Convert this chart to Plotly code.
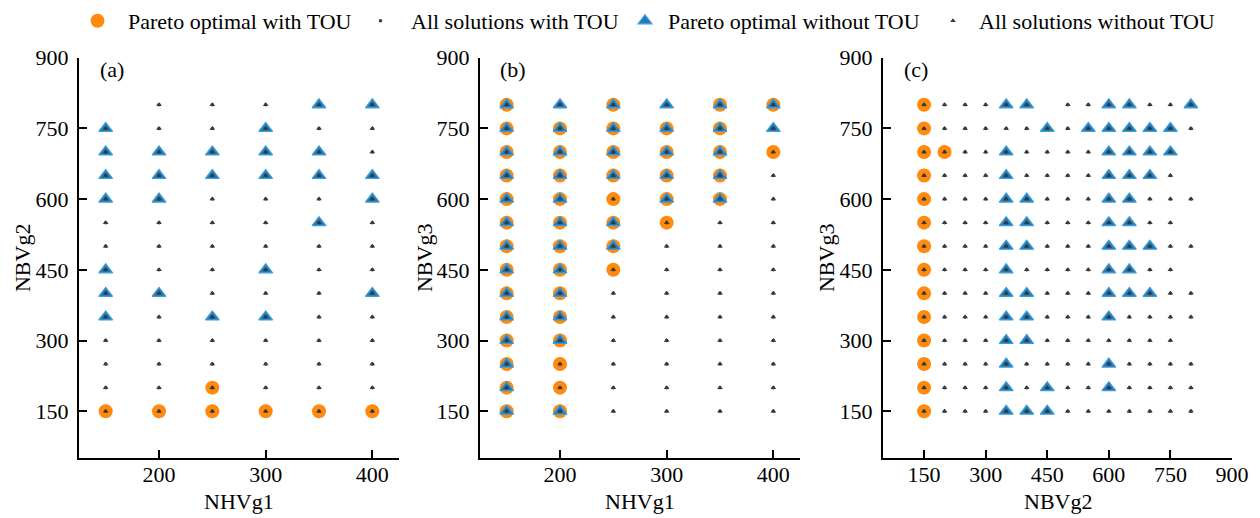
import plotly.graph_objects as go

# ---- grids of decision values (kW) ----
NHV_G1 = [150, 200, 250, 300, 350, 400]
NBV_LEVELS = [150, 200, 250, 300, 350, 400, 450, 500, 550, 600, 650, 700, 750, 800]

# ---- panel (a): NHVg1 vs NBVg2 ----
# Pareto sets keyed by NBVg2 level -> list of NHVg1 values
a_pareto_tou = {150: [150, 200, 250, 300, 350, 400], 200: [250]}
a_pareto_no_tou = {
    800: [350, 400], 750: [150, 300], 700: [150, 200, 250, 300, 350],
    650: [150, 200, 250, 300, 350, 400], 600: [150, 200, 400], 550: [350],
    450: [150, 300], 400: [150, 200, 400], 350: [150, 250, 300],
}
a_missing = [(150, 800)]

# ---- panel (b): NHVg1 vs NBVg3 ----
b_pareto_tou = {
    800: [150, 250, 350, 400], 750: [150, 200, 250, 300, 350],
    700: [150, 200, 250, 300, 350, 400], 650: [150, 200, 250, 300, 350],
    600: [150, 200, 250, 300, 350], 550: [150, 200, 250, 300],
    500: [150, 200, 250], 450: [150, 200, 250], 400: [150, 200],
    350: [150, 200], 300: [150, 200], 250: [150, 200], 200: [150, 200],
    150: [150, 200],
}
b_pareto_no_tou = {
    800: [150, 200, 250, 300, 350, 400], 750: [150, 200, 250, 300, 350, 400],
    700: [150, 200, 250, 300, 350], 650: [150, 200, 250, 300, 350],
    600: [150, 200, 300, 350], 550: [150, 200, 250], 500: [150, 200, 250],
    450: [150, 200], 400: [150, 200], 350: [150, 200], 300: [150, 200],
    250: [150], 200: [150], 150: [150, 200],
}
b_missing = []

# ---- panel (c): NBVg2 vs NBVg3 ----
c_pareto_tou = {lvl: [150] for lvl in NBV_LEVELS}
c_pareto_tou[700] = [150, 200]
c_pareto_no_tou = {
    800: [350, 400, 600, 650, 800], 750: [450, 550, 600, 650, 700, 750],
    700: [350, 600, 650, 700, 750], 650: [350, 600, 650, 700],
    600: [350, 400, 600, 650], 550: [350, 400, 600, 650],
    500: [350, 400, 600, 650, 700], 450: [350, 600, 650],
    400: [350, 400, 600, 650, 700], 350: [350, 400, 600],
    300: [350, 400], 250: [350, 600], 200: [350, 450, 600],
    150: [350, 400, 450],
}
c_missing = [(450, 800), (800, 700), (800, 650), (800, 550), (800, 450), (800, 300)]

Y_TICKS = [150, 300, 450, 600, 750, 900]
X_TICKS_AB = [200, 300, 400]
X_TICKS_C = [150, 300, 450, 600, 750, 900]

ORANGE = "#FF8A0D"
BLUE = "#1C7DC0"
BLUE_EDGE = "#3F9AD6"
DARK = "#3A3A3A"
FONT = "Liberation Serif"

W, H = 1260, 518


def expand(pareto):
    xs, ys = [], []
    for lvl, vals in pareto.items():
        for v in vals:
            xs.append(v)
            ys.append(lvl)
    return xs, ys


def full_grid(xvals, yvals, missing):
    xs, ys = [], []
    for y in yvals:
        for x in xvals:
            if (x, y) not in missing:
                xs.append(x)
                ys.append(y)
    return xs, ys


panels = [
    dict(tou=a_pareto_tou, notou=a_pareto_no_tou, xv=NHV_G1, missing=a_missing),
    dict(tou=b_pareto_tou, notou=b_pareto_no_tou, xv=NHV_G1, missing=b_missing),
    dict(tou=c_pareto_tou, notou=c_pareto_no_tou, xv=NBV_LEVELS, missing=c_missing),
]

fig = go.Figure()

for i, p in enumerate(panels):
    xa = "x" if i == 0 else f"x{i + 1}"
    ya = "y" if i == 0 else f"y{i + 1}"
    show = i == 0
    tx, ty = expand(p["tou"])
    nx, ny = expand(p["notou"])
    gx, gy = full_grid(p["xv"], NBV_LEVELS, p["missing"])
    fig.add_trace(go.Scatter(
        x=tx, y=ty, mode="markers", xaxis=xa, yaxis=ya,
        name="Pareto optimal with TOU", showlegend=show, legend="legend",
        marker=dict(symbol="circle", size=14, color=ORANGE, line=dict(width=0)),
    ))
    fig.add_trace(go.Scatter(
        x=nx, y=ny, mode="markers", xaxis=xa, yaxis=ya,
        name="Pareto optimal without TOU", showlegend=show, legend="legend3",
        marker=dict(symbol="triangle-up", size=12, color=BLUE,
                    line=dict(width=1.2, color=BLUE_EDGE)),
    ))
    fig.add_trace(go.Scatter(
        x=gx, y=gy, mode="markers", xaxis=xa, yaxis=ya,
        name="All solutions with TOU", showlegend=show, legend="legend2",
        marker=dict(symbol="circle", size=3.5, color=DARK, line=dict(width=0)),
    ))
    fig.add_trace(go.Scatter(
        x=gx, y=gy, mode="markers", xaxis=xa, yaxis=ya,
        name="All solutions without TOU", showlegend=show, legend="legend4",
        marker=dict(symbol="triangle-up", size=5, color=DARK, line=dict(width=0)),
    ))

# plot-area extents in pixels
x_dom_px = [(79, 399), (480, 800), (883, 1232)]
y_top_px, y_bot_px = 55, 458
y_dom = [1 - y_bot_px / H, 1 - y_top_px / H]

axis_common = dict(
    showline=True, linewidth=2, linecolor="black", mirror=False,
    ticks="inside", ticklen=8, tickwidth=2, tickcolor="black",
    showgrid=False, zeroline=False, automargin=False,
    tickfont=dict(family=FONT, size=22, color="black"),
)

x_ranges = [[125, 425], [125, 425], [50, 900]]
x_ticks = [X_TICKS_AB, X_TICKS_AB, X_TICKS_C]
layout_axes = {}
for i in range(3):
    xk = "xaxis" if i == 0 else f"xaxis{i + 1}"
    yk = "yaxis" if i == 0 else f"yaxis{i + 1}"
    xa = "x" if i == 0 else f"x{i + 1}"
    ya = "y" if i == 0 else f"y{i + 1}"
    layout_axes[xk] = dict(
        axis_common, domain=[x_dom_px[i][0] / W, x_dom_px[i][1] / W],
        range=x_ranges[i], tickvals=x_ticks[i], anchor=ya,
        ticklabelstandoff=-5,
    )
    layout_axes[yk] = dict(
        axis_common, domain=y_dom, range=[50, 900], tickvals=Y_TICKS,
        anchor=xa, ticklabelstandoff=4,
    )

fig.update_layout(**layout_axes)

annotations = []
# panel tags
for (x0, _), tag in zip(x_dom_px, ["(a)", "(b)", "(c)"]):
    annotations.append(dict(
        x=(x0 + 33) / W, y=1 - 67 / H, xref="paper", yref="paper",
        text=tag, showarrow=False, xanchor="center", yanchor="middle",
        font=dict(family=FONT, size=22, color="black"),
    ))
# axis titles
x_titles = ["NHVg1", "NHVg1", "NBVg2"]
y_titles = ["NBVg2", "NBVg3", "NBVg3"]
y_title_px = [22, 424, 826]
for i in range(3):
    x0, x1 = x_dom_px[i]
    annotations.append(dict(
        x=(x0 + x1) / 2 / W, y=1 - 501 / H, xref="paper", yref="paper",
        text=x_titles[i], showarrow=False, xanchor="center", yanchor="middle",
        font=dict(family=FONT, size=22, color="black"),
    ))
    annotations.append(dict(
        x=y_title_px[i] / W, y=1 - (y_top_px + y_bot_px) / 2 / H,
        xref="paper", yref="paper", text=y_titles[i], textangle=-90,
        showarrow=False, xanchor="center", yanchor="middle",
        font=dict(family=FONT, size=22, color="black"),
    ))

legend_common = dict(
    orientation="h", yanchor="middle", xanchor="left", y=1 - 18 / H,
    font=dict(family=FONT, size=22, color="black"),
    bgcolor="rgba(0,0,0,0)", borderwidth=0,
)
# (left edge px, symbol width px) for each legend entry
legend_slots = [(67, 51), (350, 51), (622, 36), (927, 42)]

fig.update_layout(
    width=W, height=H,
    margin=dict(l=0, r=0, t=0, b=0),
    paper_bgcolor="white", plot_bgcolor="white",
    annotations=annotations,
    legend=dict(legend_common, x=legend_slots[0][0] / W, itemwidth=legend_slots[0][1]),
    legend2=dict(legend_common, x=legend_slots[1][0] / W, itemwidth=legend_slots[1][1]),
    legend3=dict(legend_common, x=legend_slots[2][0] / W, itemwidth=legend_slots[2][1]),
    legend4=dict(legend_common, x=legend_slots[3][0] / W, itemwidth=legend_slots[3][1]),
)

fig.write_html("out.html")
